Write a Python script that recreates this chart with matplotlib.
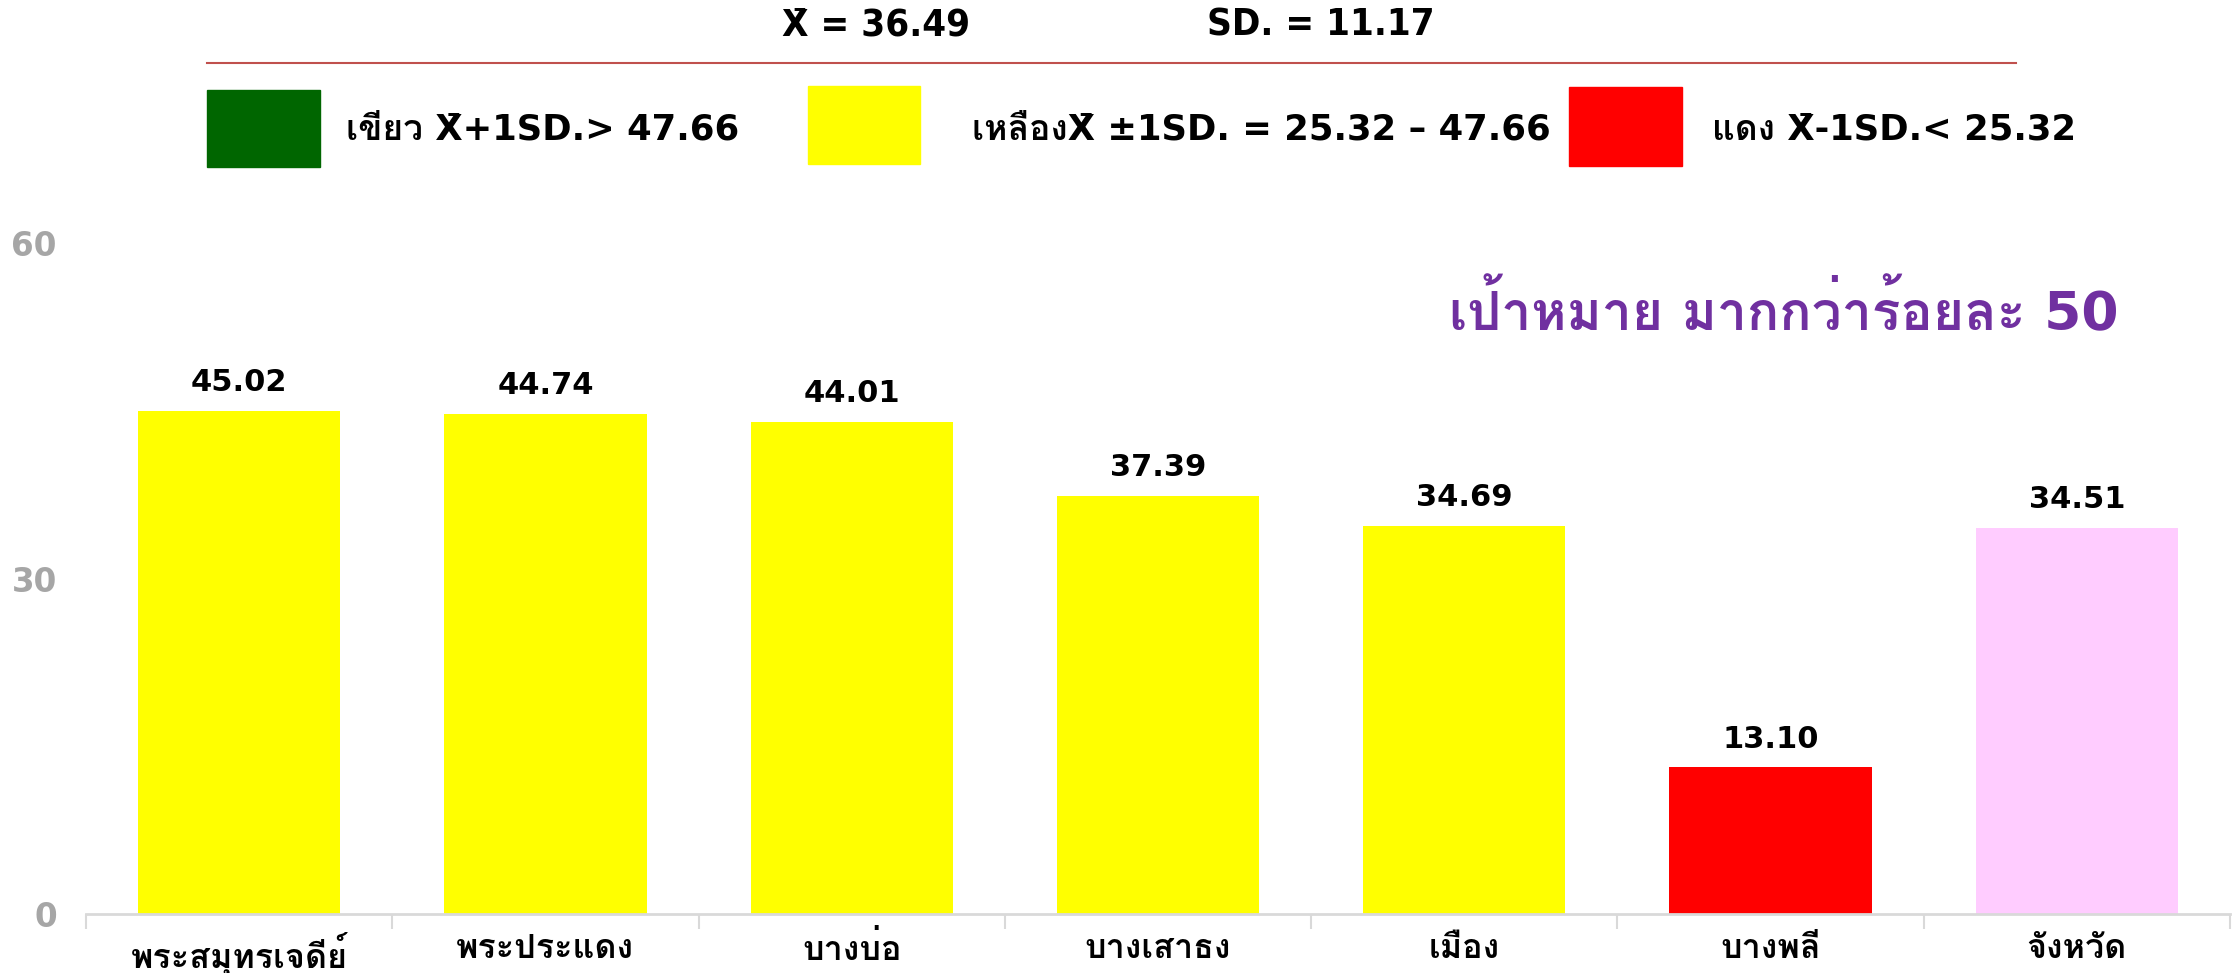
import matplotlib
matplotlib.use("Agg")
import matplotlib.pyplot as plt
from matplotlib.patches import Rectangle

categories = ["พระสมุทรเจดีย์", "พระประแดง", "บางบ่อ", "บางเสาธง", "เมือง", "บางพลี", "จังหวัด"]
values = [45.02, 44.74, 44.01, 37.39, 34.69, 13.10, 34.51]
bar_colors = ["#FFFF00", "#FFFF00", "#FFFF00", "#FFFF00", "#FFFF00", "#FF0000", "#FFCCFF"]
y_ticks = [0, 30, 60]
mean_text = "X\u0304 = 36.49"
sd_text = "SD. = 11.17"
legend_labels = ["เขียว X\u0304+1SD.> 47.66", "เหลืองX\u0304 ±1SD. = 25.32 – 47.66", "แดง X\u0304-1SD.< 25.32"]
legend_colors = ["#006600", "#FFFF00", "#FF0000"]
target_text = "เป้าหมาย มากกว่าร้อยละ 50"

FAM = ["DejaVu Sans", "Loma"]
plt.rcParams["font.family"] = FAM

W, H = 2239, 973
fig = plt.figure(figsize=(W / 100, H / 100), dpi=100)

def fx(px):
    return px / W

def fy(py):
    return 1 - py / H

ax = fig.add_axes([fx(86), fy(914), fx(2230) - fx(86), fy(243) - fy(914)])
x = list(range(len(categories)))
bars = ax.bar(x, values, width=0.66, color=bar_colors, zorder=2)
ax.set_xlim(-0.5, len(categories) - 0.5)
ax.set_ylim(0, 60)
ax.set_yticks(y_ticks)
ax.set_yticklabels([str(t) for t in y_ticks], color="#A6A6A6", fontsize=23.5, fontweight="bold")
ax.tick_params(axis="y", length=0, pad=21)
for s in ["left", "right", "top"]:
    ax.spines[s].set_visible(False)
ax.spines["bottom"].set_color("#D9D9D9")
ax.spines["bottom"].set_linewidth(2)
# category boundary ticks
ax.set_xticks([i - 0.5 for i in range(len(categories) + 1)], minor=False)
ax.set_xticklabels([""] * (len(categories) + 1))
ax.tick_params(axis="x", which="major", length=11, width=1.5, color="#D9D9D9")
ax.set_xticks(x, minor=True)
ax.set_xticklabels(categories, minor=True, fontsize=24.5, fontweight="bold", color="black")
ax.tick_params(axis="x", which="minor", length=0, pad=13)

for xi, v in zip(x, values):
    ax.annotate(f"{v:.2f}", (xi, v), xytext=(0, 10), textcoords="offset points",
                ha="center", va="bottom", fontsize=22, fontweight="bold", color="black")

# header
fig.text(fx(876), fy(26), mean_text, ha="center", va="center", fontsize=27.5, fontweight="bold",
         fontstretch="condensed")
fig.text(fx(1321), fy(26), sd_text, ha="center", va="center", fontsize=27.5, fontweight="bold",
         fontstretch="condensed")
fig.add_artist(plt.Line2D([fx(207), fx(2016)], [fy(63), fy(63)], color="#C0504D", lw=1.5))

rects = [(207, 90, 320, 167), (808, 86, 920, 164), (1569, 87, 1682, 166)]
text_x = [346, 972, 1712]
for (x0, y0, x1, y1), c, lab, tx in zip(rects, legend_colors, legend_labels, text_x):
    fig.add_artist(Rectangle((fx(x0), fy(y1)), fx(x1) - fx(x0), fy(y0) - fy(y1),
                             transform=fig.transFigure, color=c))
    fig.text(fx(tx), fy(130), lab, ha="left", va="center", fontsize=25.5, fontweight="bold")

fig.text(fx(1449), fy(313), target_text, ha="left", va="center", fontsize=38.5, fontweight="bold",
         color="#7030A0")

fig.savefig("out.png", dpi=100)
